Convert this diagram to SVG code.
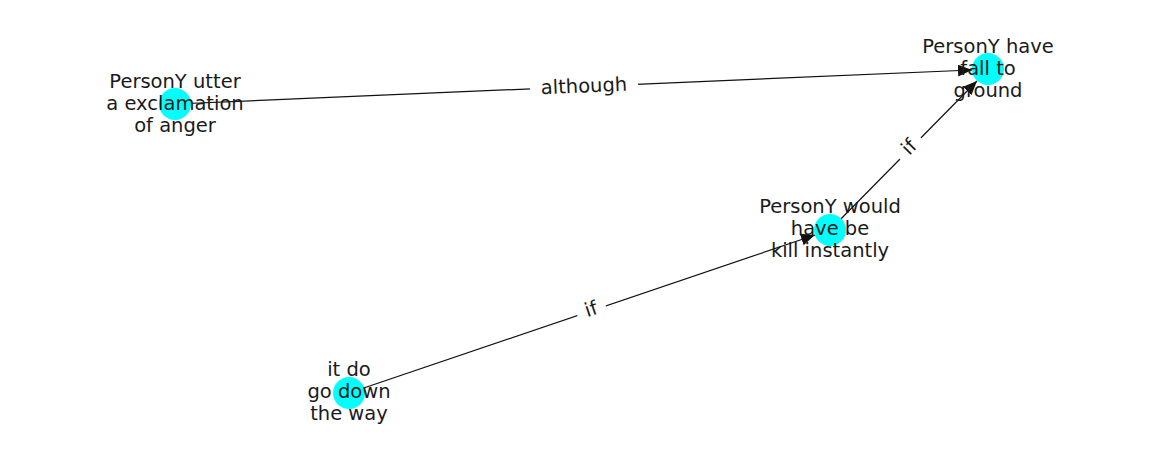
<svg xmlns="http://www.w3.org/2000/svg" width="1162" height="462" viewBox="0 0 1162 462">
<style>
.node{fill:#00ffff}
.edge{stroke:#111;stroke-width:1.2;fill:none}
.lbl{font-family:"DejaVu Sans",sans-serif;font-size:19.5px;fill:#1a1a1a;text-anchor:middle}
.elbl{font-family:"DejaVu Sans",sans-serif;font-size:19.5px;fill:#1a1a1a;text-anchor:middle;dominant-baseline:central}
.bg{fill:#fff}
</style>
<defs>
<marker id="arr" markerUnits="userSpaceOnUse" markerWidth="15" markerHeight="12" refX="14" refY="6" orient="auto">
<path d="M0,0 L14,6 L0,12 Z" fill="#111"/>
</marker>
</defs>
<rect width="1162" height="462" fill="#fff"/>
<g id="edges">
<line class="edge" x1="175" y1="104" x2="972" y2="70" marker-end="url(#arr)"/>
<line class="edge" x1="830" y1="230" x2="977" y2="81" marker-end="url(#arr)"/>
<line class="edge" x1="349" y1="393" x2="815" y2="235" marker-end="url(#arr)"/>
<g transform="translate(584,86) rotate(-2.47)">
<rect class="bg" x="-54" y="-13" width="108" height="26"/>
<text class="elbl" x="0" y="0">although</text>
</g>
<g transform="translate(909,147) rotate(-45.5)">
<rect class="bg" x="-15" y="-13" width="30" height="26"/>
<text class="elbl" x="0" y="0">if</text>
</g>
<g transform="translate(591,309) rotate(-18.7)">
<rect class="bg" x="-15" y="-13" width="30" height="26"/>
<text class="elbl" x="0" y="0">if</text>
</g>
</g>
<g id="n1">
<circle class="node" cx="175" cy="104" r="16"/>
<text class="lbl" x="175" y="88">PersonY utter</text>
<text class="lbl" x="175" y="110">a exclamation</text>
<text class="lbl" x="175" y="132">of anger</text>
</g>
<g id="n2">
<circle class="node" cx="988" cy="69" r="16"/>
<text class="lbl" x="988" y="53">PersonY have</text>
<text class="lbl" x="988" y="75">fall to</text>
<text class="lbl" x="988" y="97">ground</text>
</g>
<g id="n3">
<circle class="node" cx="830" cy="230" r="16"/>
<text class="lbl" x="830" y="213">PersonY would</text>
<text class="lbl" x="830" y="235">have be</text>
<text class="lbl" x="830" y="257">kill instantly</text>
</g>
<g id="n4">
<circle class="node" cx="349" cy="393" r="16"/>
<text class="lbl" x="349" y="376">it do</text>
<text class="lbl" x="349" y="398">go down</text>
<text class="lbl" x="349" y="420">the way</text>
</g>
</svg>
